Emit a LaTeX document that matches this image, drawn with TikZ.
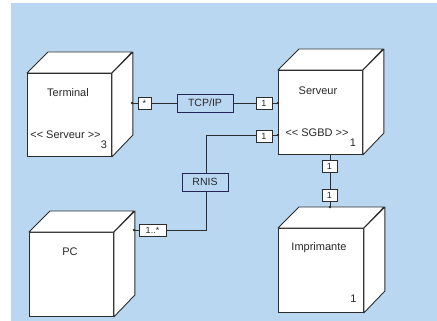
\documentclass[tikz,border=0pt]{standalone}
\usepackage{fontspec}
\setmainfont{Liberation Sans}
\usetikzlibrary{calc}
\definecolor{bgblue}{RGB}{186,215,242}
\definecolor{edgec}{RGB}{45,45,45}
\definecolor{txtc}{RGB}{40,40,40}
\begin{document}
\begin{tikzpicture}[x=1pt,y=-1pt,
  cubefront/.style={draw=edgec, fill=white, line width=0.9pt, inner sep=0pt, anchor=north west},
  cubeside/.style={draw=edgec, fill=white, line width=0.9pt, line join=round},
  cubetxt/.style={text=txtc, font=\fontsize{11}{13}\selectfont, inner sep=0pt},
  mult/.style={draw=edgec, fill=white, line width=0.8pt, inner sep=0pt, text=txtc, font=\fontsize{9}{10}\selectfont, minimum height=12pt},
  proto/.style={draw=edgec!80!blue, fill=bgblue, line width=0.8pt, inner sep=0pt, text=txtc, font=\fontsize{10.5}{12}\selectfont, minimum height=18pt},
  conn/.style={draw=edgec, line width=0.8pt},
  enddot/.style={fill=edgec, draw=none},
]
\fill[white] (0,0) rectangle (437,321);
\fill[bgblue] (11,3) rectangle (437,321);

% Terminal
\node[cubefront, minimum width=84pt, minimum height=83pt] (term) at (27,73) {};
\filldraw[cubeside] (term.north west) -- ++(21,-21) -- ++(84,0) -- (term.north east) -- cycle;
\filldraw[cubeside] (term.north east) -- ++(21,-21) -- ++(0,83) -- (term.south east) -- cycle;
\node[cubetxt] (termname) at (68,93) {Terminal};
\node[cubetxt] (termst) at (65.5,135) {<{}< Serveur >{}>};
\node[cubetxt] (termn) at (104,145) {3};

% Serveur
\node[cubefront, minimum width=84pt, minimum height=84pt] (serv) at (278,70) {};
\filldraw[cubeside] (serv.north west) -- ++(21,-21) -- ++(84,0) -- (serv.north east) -- cycle;
\filldraw[cubeside] (serv.north east) -- ++(21,-21) -- ++(0,84) -- (serv.south east) -- cycle;
\node[cubetxt] (servname) at (318,91) {Serveur};
\node[cubetxt] (servst) at (317,133) {<{}< SGBD >{}>};
\node[cubetxt] (servn) at (353,143) {1};

% PC
\node[cubefront, minimum width=84pt, minimum height=84pt] (pc) at (29,232) {};
\filldraw[cubeside] (pc.north west) -- ++(21,-21) -- ++(84,0) -- (pc.north east) -- cycle;
\filldraw[cubeside] (pc.north east) -- ++(21,-21) -- ++(0,84) -- (pc.south east) -- cycle;
\node[cubetxt] (pcname) at (70,252) {PC};

% Imprimante
\node[cubefront, minimum width=85pt, minimum height=84pt] (imp) at (278,228) {};
\filldraw[cubeside] (imp.north west) -- ++(21,-21) -- ++(85,0) -- (imp.north east) -- cycle;
\filldraw[cubeside] (imp.north east) -- ++(21,-21) -- ++(0,84) -- (imp.south east) -- cycle;
\node[cubetxt] (impname) at (319,248) {Imprimante};
\node[cubetxt] (impn) at (353.5,299) {1};

% connector end points
\coordinate (tA) at (132,103);
\coordinate (sA) at (serv.west |- tA);
\coordinate (sB) at (278,135);
\coordinate (bend1) at (206,135);
\coordinate (pB) at (134,230);
\coordinate (bend2) at (206,230);
\coordinate (sC) at (330,154);
\coordinate (iC) at (330,207);

% TCP/IP
\draw[conn] (tA) -- (sA);
\node[mult, minimum width=13pt] (m1) at (144.5,103) {*};
\node[proto, minimum width=56pt] (tcp) at (205,103) {TCP/IP};
\node[mult, minimum width=16pt] (m2) at (264,103) {1};

% RNIS
\draw[conn] (sB) -- (bend1) -- (bend2) -- (pB);
\node[mult, minimum width=16pt] (m3) at (264,136) {1};
\node[proto, minimum width=46pt] (rnis) at (205,182) {RNIS};
\node[mult, minimum width=27pt] (m4) at (152.5,230) {1..*};

% Serveur - Imprimante
\draw[conn] (sC) -- (iC);
\node[mult, minimum width=15pt] (m5) at (329.5,166) {1};
\node[mult, minimum width=15pt] (m6) at (329.5,195.5) {1};

% end dots
\foreach \p in {tA,sA,sB,pB,iC}
  \fill[enddot] (\p) circle (1.3pt);
\end{tikzpicture}
\end{document}
